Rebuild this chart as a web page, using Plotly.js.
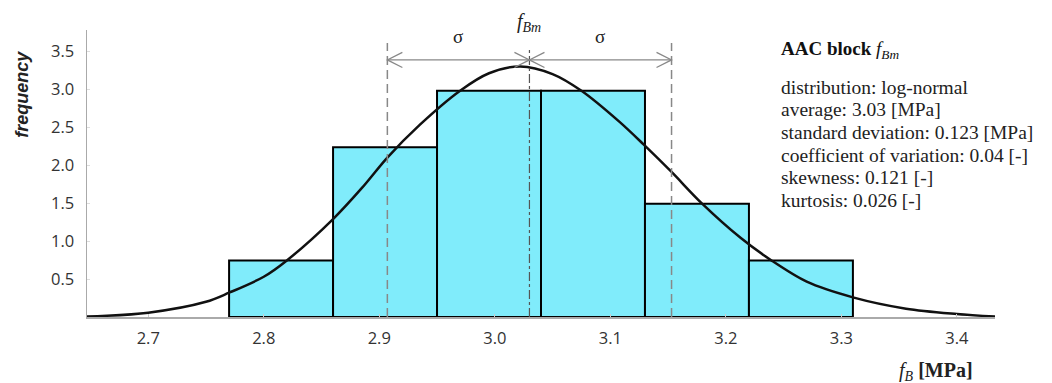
<!DOCTYPE html>
<html>
<head>
<meta charset="utf-8">
<script src="https://cdn.plot.ly/plotly-3.0.1.min.js"></script>
<style>
  html, body { margin: 0; padding: 0; background: #fff; }
  #grafico { width: 1052px; height: 383px; }
</style>
</head>
<body>
<div id="grafico"></div>
<script>
  // histogram bins (left edge, MPa) and frequency density
  const binStart = [2.77, 2.86, 2.95, 3.04, 3.13, 3.22];
  const binWidth = 0.09;
  const binFreq = [0.745, 2.235, 2.98, 2.98, 1.49, 0.745];

  // fitted density curve
  const curveX = [2.647, 2.70, 2.75, 2.77, 2.80, 2.82, 2.86, 2.885, 2.907, 2.935,
                  2.970, 2.995, 3.022, 3.050, 3.075, 3.108, 3.129, 3.153, 3.179,
                  3.213, 3.2395, 3.270, 3.310, 3.356, 3.40, 3.433];
  const curveY = [0.005, 0.057, 0.20, 0.32, 0.53, 0.745, 1.29, 1.70, 2.10, 2.53,
                  2.98, 3.21, 3.30, 3.20, 2.98, 2.57, 2.27, 1.91, 1.50,
                  1.04, 0.745, 0.465, 0.259, 0.11, 0.04, 0.005];

  const mean = 3.03;
  const sd = 0.123;

  const yTicks = [0.5, 1.0, 1.5, 2.0, 2.5, 3.0, 3.5];
  const xTicks = [2.7, 2.8, 2.9, 3.0, 3.1, 3.2, 3.3, 3.4];

  const statLines = [
    'distribution: log-normal',
    'average: 3.03 [MPa]',
    'standard deviation: 0.123 [MPa]',
    'coefficient of variation: 0.04 [-]',
    'skewness: 0.121 [-]',
    'kurtosis: 0.026 [-]'
  ];

  const serif = 'Liberation Serif, Times New Roman, serif';
  const sans = 'Open Sans, Liberation Sans, sans-serif';

  // pixel helpers for the plot area (margins below)
  const plotTop = 30, plotH = 287, plotLeft = 87, plotW = 908;
  const py = p => (plotTop + plotH - p) / plotH;
  const px = p => (p - plotLeft) / plotW;

  const barras = {
    type: 'bar',
    x: binStart,
    y: binFreq,
    width: binWidth,
    offset: 0,
    marker: { color: '#80ecfb', line: { color: '#000', width: 2 } },
    hoverinfo: 'skip'
  };

  const curva = {
    type: 'scatter',
    mode: 'lines',
    x: curveX,
    y: curveY,
    line: { color: '#111', width: 2.5, shape: 'spline', smoothing: 0.9 },
    hoverinfo: 'skip'
  };

  // dimension arrows for sigma
  const yArrow = 3.386, ahx = 0.013, ahy = 0.1;
  const lo = mean - sd, hi = mean + sd;
  function punta(x, dir) {
    // dir = -1 points left, +1 points right
    const bx = x - dir * ahx;
    return {
      type: 'path', xref: 'x', yref: 'y',
      path: `M ${bx},${yArrow + ahy} L ${x},${yArrow} L ${bx},${yArrow - ahy}`,
      line: { color: '#888', width: 1.3 }
    };
  }

  const shapes = [
    { type: 'line', xref: 'x', yref: 'y', x0: lo, x1: lo, y0: 0, y1: 3.61,
      line: { color: '#888', width: 1.5, dash: '9px,5px' } },
    { type: 'line', xref: 'x', yref: 'y', x0: hi, x1: hi, y0: 0, y1: 3.61,
      line: { color: '#888', width: 1.5, dash: '9px,5px' } },
    { type: 'line', xref: 'x', yref: 'y', x0: mean, x1: mean, y0: 0, y1: 3.54,
      line: { color: '#555', width: 1.2, dash: 'dashdot' } },
    { type: 'line', xref: 'x', yref: 'y', x0: lo, x1: hi, y0: yArrow, y1: yArrow,
      line: { color: '#888', width: 1.3 } },
    punta(lo, -1), punta(mean, 1), punta(mean, -1), punta(hi, 1)
  ];

  const annotations = [
    { xref: 'x', yref: 'y', x: (lo + mean) / 2, y: 3.7, xanchor: 'center', yanchor: 'middle',
      text: 'σ', showarrow: false, font: { family: serif, size: 19, color: '#222' } },
    { xref: 'x', yref: 'y', x: (mean + hi) / 2, y: 3.7, xanchor: 'center', yanchor: 'middle',
      text: 'σ', showarrow: false, font: { family: serif, size: 19, color: '#222' } },
    { xref: 'x', yref: 'paper', x: mean, y: py(22), xanchor: 'center', yanchor: 'middle',
      text: '<i>f</i><sub><i>Bm</i></sub>', showarrow: false,
      font: { family: serif, size: 20, color: '#222' } },
    { xref: 'paper', yref: 'paper', x: px(779), y: py(50), xanchor: 'left', yanchor: 'middle',
      text: '<b>AAC block </b><i>f</i><sub><i>Bm</i></sub>', showarrow: false, align: 'left',
      font: { family: serif, size: 19, color: '#111' } },
    { xref: 'paper', yref: 'y', x: -0.0716, y: 2.94, xanchor: 'center', yanchor: 'middle',
      textangle: -90, text: '<b><i>frequency</i></b>', showarrow: false,
      font: { family: 'Liberation Sans, Arial, sans-serif', size: 18, color: '#222' } },
    { xref: 'paper', yref: 'paper', x: px(936), y: py(371), xanchor: 'center', yanchor: 'middle',
      text: '<i>f</i><sub><i>B</i></sub> <b>[MPa]</b>', showarrow: false,
      font: { family: serif, size: 20, color: '#222' } }
  ];

  statLines.forEach((t, i) => {
    annotations.push({
      xref: 'paper', yref: 'paper', x: px(779), y: py(87 + i * 22.7),
      xanchor: 'left', yanchor: 'middle', text: t, showarrow: false, align: 'left',
      font: { family: serif, size: 19.5, color: '#222' }
    });
  });

  const layout = {
    width: 1052,
    height: 383,
    margin: { l: plotLeft, r: 1052 - plotLeft - plotW, t: plotTop, b: 383 - plotTop - plotH },
    paper_bgcolor: '#fff',
    plot_bgcolor: '#fff',
    showlegend: false,
    bargap: 0,
    xaxis: {
      range: [2.647, 3.433],
      tickvals: xTicks,
      ticktext: xTicks.map(v => v.toFixed(1)),
      showgrid: false, zeroline: false,
      showline: true, linecolor: '#aaa', linewidth: 2,
      ticks: 'inside', ticklen: 3, tickcolor: '#ccc',
      ticklabelstandoff: 5,
      tickfont: { family: sans, size: 16.5, color: '#333' }
    },
    yaxis: {
      range: [0, 3.78],
      tickvals: yTicks,
      ticktext: yTicks.map(v => v.toFixed(1)),
      showgrid: false, zeroline: false,
      showline: true, linecolor: '#aaa', linewidth: 1.5,
      ticks: 'inside', ticklen: 3, tickcolor: '#ddd',
      ticklabelstandoff: 8,
      tickfont: { family: sans, size: 16.5, color: '#333' }
    },
    shapes: shapes,
    annotations: annotations
  };

  Plotly.newPlot('grafico', [barras, curva], layout, { displayModeBar: false, staticPlot: true });
</script>
</body>
</html>
